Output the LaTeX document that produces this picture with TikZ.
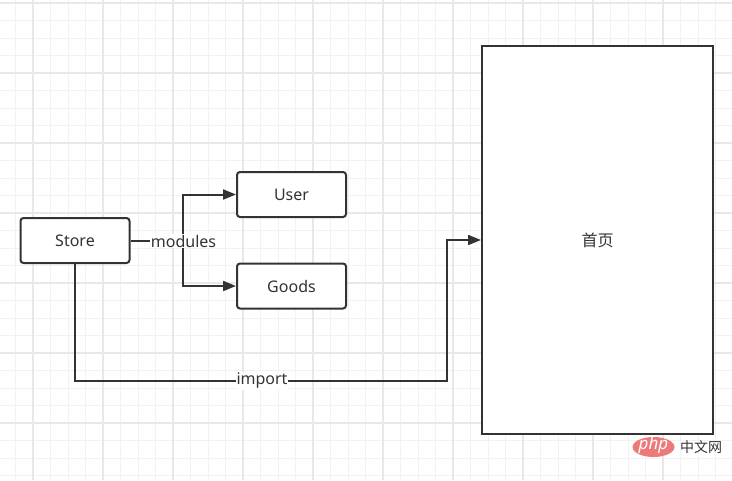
\documentclass[tikz,border=0pt]{standalone}
\usepackage{fontspec}
\setmainfont{Noto Sans}
\newfontfamily\cjk{Noto Sans CJK SC}
\usetikzlibrary{arrows.meta}
\definecolor{ln}{HTML}{333333}
\definecolor{gridminor}{HTML}{F2F2F2}
\definecolor{gridmajor}{HTML}{E8E8E8}
\definecolor{wmred}{HTML}{EC7A78}
\begin{document}
\begin{tikzpicture}[x=1pt,y=-1pt,
  box/.style={draw=ln, line width=2pt, rounded corners=3pt, minimum width=109pt, minimum height=45pt, inner sep=0pt, fill=white, text=ln, font=\fontsize{16}{18}\selectfont},
  conn/.style={draw=ln, line width=2pt, -{Triangle[length=13pt,width=10pt]}},
  lbl/.style={fill=white, inner sep=1pt, text=ln, font=\fontsize{16}{18}\selectfont},
  gminor/.style={draw=gridminor, line width=1pt},
  gmajor/.style={draw=gridmajor, line width=1.3pt}]
\useasboundingbox (0,0) rectangle (732,480);
\fill[white] (0,0) rectangle (732,480);
\foreach \i in {0,...,41} {\draw[gminor] (15.5+17.5*\i,0) -- ++(0,480);}
\foreach \i in {0,...,27} {\draw[gminor] (0,3+17.5*\i) -- ++(732,0);}
\foreach \i in {0,...,10} {\draw[gmajor] (33+70*\i,0) -- ++(0,480);}
\foreach \i in {0,...,6} {\draw[gmajor] (0,3+70*\i) -- ++(732,0);}

\node[box] (store) at (75,240.5) {Store};
\node[box] (user) at (291.5,194.5) {User};
\node[box] (goods) at (291.5,286) {Goods};
\node[draw=ln, line width=2pt, minimum width=231pt, minimum height=388pt, inner sep=0pt, fill=white, text=ln, font=\fontsize{16}{18}\selectfont] (home) at (597.5,240) {\cjk 首页};

\coordinate (br) at (183,240.5);
\draw[conn] (store.east) -- (br) |- (user.west);
\draw[conn] (br) |- (goods.west);
\node[lbl] (modlbl) at (183.5,241) {modules};

\coordinate (c1) at (75,381);
\coordinate (c2) at (447,381);
\draw[conn] (store.south) -- (c1) -- (c2) |- (home.west);
\node[lbl] (implbl) at (262,381) {import};

\fill[wmred] (653.5,447) ellipse [x radius=21pt, y radius=10pt];
\node[text=white, inner sep=0pt, font=\fontsize{17}{17}\selectfont\itshape] (wmphp) at (653.5,445.5) {php};
\node[text=ln, inner sep=0pt, font=\cjk\fontsize{14}{14}\selectfont] (wmcn) at (701,447) {中文网};
\end{tikzpicture}
\end{document}
